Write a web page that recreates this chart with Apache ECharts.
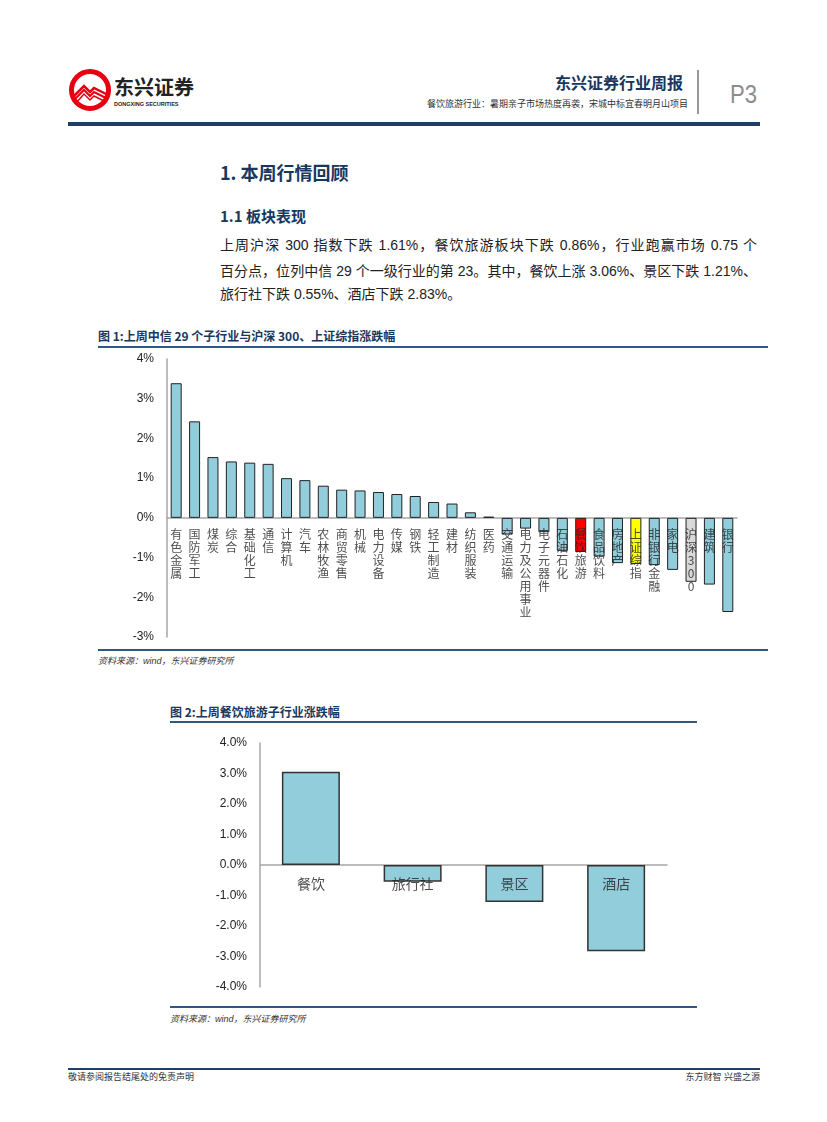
<!DOCTYPE html>
<html><head><meta charset="utf-8">
<script src="https://cdn.jsdelivr.net/npm/echarts@6/dist/echarts.min.js"></script>
<style>
body{margin:0;width:827px;height:1122px;position:relative;background:#fff;font-family:"Liberation Sans","Noto Sans CJK SC",sans-serif;overflow:hidden;color:#222}
.abs{position:absolute;white-space:nowrap}
.navy{color:#17375E}
.hr{position:absolute;height:2px;background:#2C5A85}
.body{position:absolute;left:220px;width:537px;font-size:14px;line-height:14px;text-align:justify;text-align-last:justify;white-space:nowrap;color:#222}
.src{position:absolute;font-size:9px;line-height:9px;font-style:italic;color:#333}
</style></head><body>

<!-- logo -->
<svg class="abs" style="left:68px;top:68px" width="46" height="46" viewBox="0 0 46 46">
  <circle cx="22" cy="22" r="18.5" fill="none" stroke="#E60012" stroke-width="5"/>
  <polyline points="6,28 16,18 22,24 26,20 38,26" fill="none" stroke="#E60012" stroke-width="2.5"/>
  <polyline points="6,32 16,22 22,28 26,24 38,30" fill="none" stroke="#E60012" stroke-width="2"/>
  <polyline points="8,35 16,26 22,32 26,28 36,33" fill="none" stroke="#E60012" stroke-width="1.5"/>
</svg>
<div class="abs" style="left:114px;top:77px;font-size:20px;line-height:20px;font-weight:bold;color:#222;font-family:'Noto Sans CJK SC'">东兴证券</div>
<div class="abs" style="left:114px;top:101px;font-size:5.5px;line-height:6px;font-weight:bold;color:#222">DONGXING SECURITIES</div>

<div class="abs navy" style="right:144px;top:74px;font-size:16px;line-height:16px;font-weight:bold;font-family:'Noto Sans CJK SC'">东兴证券行业周报</div>
<div class="abs" style="right:139px;top:99px;font-size:9px;line-height:10px;color:#333;font-family:'Noto Sans CJK SC'">餐饮旅游行业：暑期亲子市场热度再袭，宋城中标宜春明月山项目</div>
<div class="abs" style="left:697px;top:70px;width:1.5px;height:44px;background:#999"></div>
<div class="abs" style="left:730px;top:81px;font-size:26px;line-height:26px;color:#8c8c8c;transform:scaleX(0.85);transform-origin:left">P3</div>
<div class="abs" style="left:68px;top:122px;width:692px;height:4px;background:#1F3F66"></div>

<div class="abs navy" style="left:220px;top:162px;font-size:18px;line-height:20px;font-weight:bold;font-family:'Noto Sans CJK SC'">1. 本周行情回顾</div>
<div class="abs navy" style="left:220px;top:207px;font-size:15px;line-height:18px;font-weight:bold;font-family:'Noto Sans CJK SC'">1.1 板块表现</div>

<div class="body" style="top:238px">上周沪深 300 指数下跌 1.61%，餐饮旅游板块下跌 0.86%，行业跑赢市场 0.75 个</div>
<div class="body" style="top:264px">百分点，位列中信 29 个一级行业的第 23。其中，餐饮上涨 3.06%、景区下跌 1.21%、</div>
<div class="body" style="top:287px;text-align-last:left;width:auto">旅行社下跌 0.55%、酒店下跌 2.83%。</div>

<div class="abs navy" style="left:98px;top:329px;font-size:12px;line-height:14px;font-weight:bold;font-family:'Noto Sans CJK SC'">图 1:上周中信 29 个子行业与沪深 300、上证综指涨跌幅</div>
<div class="hr" style="left:98px;top:346px;width:670px"></div>
<div id="c1" class="abs" style="left:98px;top:348px;width:670px;height:300px"></div>
<div class="hr" style="left:98px;top:649px;width:670px"></div>
<div class="src" style="left:98px;top:657px">资料来源：wind，东兴证券研究所</div>

<div class="abs navy" style="left:170px;top:705px;font-size:12px;line-height:14px;font-weight:bold;font-family:'Noto Sans CJK SC'">图 2:上周餐饮旅游子行业涨跌幅</div>
<div class="hr" style="left:170px;top:721px;width:527px"></div>
<div id="c2" class="abs" style="left:170px;top:726px;width:527px;height:278px"></div>
<div class="hr" style="left:170px;top:1006px;width:527px"></div>
<div class="src" style="left:170px;top:1015px">资料来源：wind，东兴证券研究所</div>

<div class="abs" style="left:68px;top:1068px;width:692px;height:2px;background:#1F3F66"></div>
<div class="src" style="left:68px;top:1073px;font-style:normal">敬请参阅报告结尾处的免责声明</div>
<div class="src" style="right:67px;top:1073px;font-style:normal">东方财智 兴盛之源</div>

<script>
// ---- data: chart 1 ----
const industries = ['有色金属','国防军工','煤炭','综合','基础化工','通信','计算机','汽车','农林牧渔','商贸零售','机械','电力设备','传媒','钢铁','轻工制造','建材','纺织服装','医药','交通运输','电力及公用事业','电子元器件','石油石化','餐饮旅游','食品饮料','房地产','上证综指','非银行金融','家电','沪深300','建筑','银行'];
const industryChange = [3.39,2.43,1.53,1.42,1.39,1.36,1.00,0.95,0.81,0.71,0.69,0.65,0.60,0.55,0.40,0.36,0.14,0.03,-0.42,-0.27,-0.36,-0.83,-0.86,-0.97,-1.14,-1.16,-1.19,-1.31,-1.61,-1.68,-2.37];
const yTicks1 = [-3,-2,-1,0,1,2,3,4];
// ---- data: chart 2 ----
const subIndustries = ['餐饮','旅行社','景区','酒店'];
const subChange = [3.06,-0.55,-1.21,-2.83];
const yTicks2 = [-4,-3,-2,-1,0,1,2,3,4];

const highlight = {'餐饮旅游':'#FF0000','上证综指':'#FFFF00','沪深300':'#D9D9D9'};
const baseBlue = '#92CDDC';
const font = "'Liberation Sans','Noto Sans CJK SC',sans-serif";
const cjk = "'Noto Sans CJK SC',sans-serif";

function valueAxis(ticks, fmt){
  return {type:'value',min:ticks[0],max:ticks[ticks.length-1],interval:1,
    axisLine:{show:true,lineStyle:{color:'#a6a6a6',width:1.5}},axisTick:{show:false},splitLine:{show:false},
    axisLabel:{margin:13,fontSize:12,color:'#222',fontFamily:font,formatter:fmt}};
}
function catAxis(cats){
  return {type:'category',data:cats,
    axisLine:{onZero:true,lineStyle:{color:'#a6a6a6',width:1.5}},
    axisTick:{show:false},axisLabel:{show:false}};
}

const c1 = echarts.init(document.getElementById('c1'));
c1.setOption({
  animation:false,
  grid:{left:69,top:11,width:570,height:278,outerBoundsMode:'none',containLabel:false},
  xAxis:catAxis(industries),
  yAxis:valueAxis(yTicks1,'{value}%'),
  series:[{type:'bar',barWidth:11,z:2,
    data:industryChange.map((v,i)=>({value:v,itemStyle:{color:highlight[industries[i]]||baseBlue}})),
    itemStyle:{borderColor:'#222',borderWidth:1}},
    {type:'scatter',symbolSize:0,z:10,silent:true,
     data:industries.map(c=>[c,0]),
     label:{show:true,position:'bottom',distance:10,fontSize:12,lineHeight:13,color:'#222',fontFamily:cjk,
       formatter:p=>p.value[0].split('').join('\n')}}]
});

const c2 = echarts.init(document.getElementById('c2'));
c2.setOption({
  animation:false,
  grid:{left:90,top:17,width:407,height:244,outerBoundsMode:'none',containLabel:false},
  xAxis:catAxis(subIndustries),
  yAxis:valueAxis(yTicks2,v=>v.toFixed(1)+'%'),
  series:[{type:'bar',barWidth:58,data:subChange,z:2,
    itemStyle:{color:baseBlue,borderColor:'#333',borderWidth:1.5}},
    {type:'scatter',symbolSize:0,z:10,silent:true,
     data:subIndustries.map(c=>[c,0]),
     label:{show:true,position:'bottom',distance:12,fontSize:14,color:'#222',fontFamily:cjk,
       formatter:p=>p.value[0]}}]
});
</script>
</body></html>
